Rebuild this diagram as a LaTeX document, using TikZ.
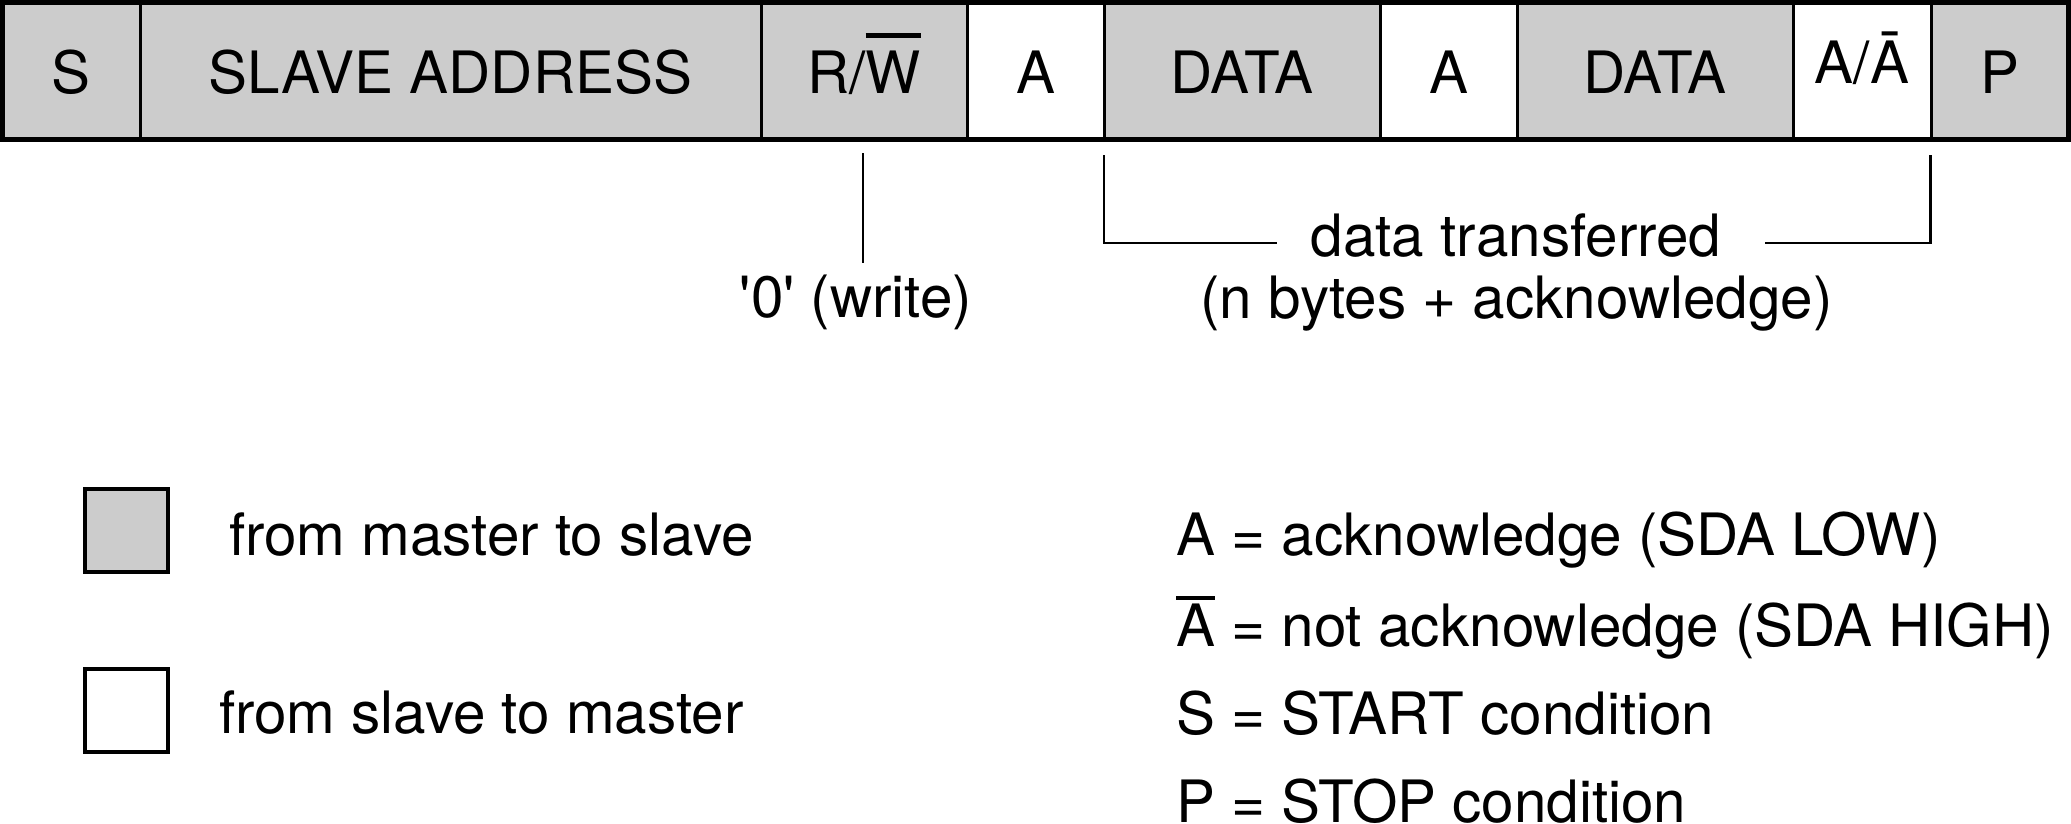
\documentclass[tikz,border=0pt]{standalone}
\usepackage{fontspec}
\setmainfont{TeX Gyre Heros}
\definecolor{cellgray}{HTML}{CCCCCC}
\newcommand\ovlA[1]{\leavevmode\setbox0\hbox{#1}\rlap{\rule[0.79em]{\wd0}{0.07em}}\box0\relax}
\newcommand\ovlW[1]{\leavevmode\setbox0\hbox{#1}\rlap{\rule[0.95em]{\wd0}{0.085em}}\box0\relax}
\begin{document}
\begin{tikzpicture}[x=1pt,y=-1pt,
  every node/.style={font=\fontsize{58.4pt}{70pt}\selectfont, inner sep=0pt, outer sep=0pt},
  cell/.style={draw, line width=3pt, rectangle, minimum height=137pt, text height=44pt, text depth=0pt},
  master/.style={cell, fill=cellgray},
  slave/.style={cell, fill=white},
  thinline/.style={line width=2.6pt},
  lbl/.style={text height=42pt, text depth=12pt},
  lgbox/.style={draw, line width=4pt, minimum width=83pt, minimum height=83pt}]
\useasboundingbox (0,0) rectangle (2071,823);
% frame cells
\node[master, minimum width=137.5pt] (s)  at (71.25,71) {S};
\node[master, minimum width=621pt]   (sa) at (450.5,71) {SLAVE ADDRESS};
\node[master, minimum width=206pt]   (rw) at (864,71)   {R/\ovlW{W}};
\node[slave,  minimum width=137pt]   (a1) at (1035.5,71) {A};
\node[master, minimum width=276pt]   (d1) at (1242,71)  {DATA};
\node[slave,  minimum width=137pt]   (a2) at (1448.5,71) {A};
\node[master, minimum width=276pt]   (d2) at (1655,71)  {DATA};
\node[slave,  minimum width=138pt, text depth=20pt] (aa) at (1862,71) {A/Ā};
\node[master, minimum width=137.5pt] (p)  at (1999.75,71) {P};
\draw[line width=4.5pt] (s.north west) rectangle (p.south east);
% R/W annotation
\node[lbl, anchor=base] (wr) at (856,317) {\textquotesingle 0\textquotesingle\ (write)};
\draw[thinline] ([xshift=-1pt,yshift=-13.5pt]rw.south) -- ([xshift=-1pt,yshift=12pt]rw.south |- wr.north);
% data transferred bracket
\node[lbl, anchor=base] (dt) at (1516,256) {data transferred};
\node[lbl, anchor=base] (nb) at (1516.5,318) {(n bytes + acknowledge)};
\draw[thinline] ([yshift=-15.5pt]d1.south west) |- ([xshift=-33.5pt,yshift=13pt]dt.base west);
\draw[thinline] ([xshift=-0.5pt,yshift=-15.5pt]aa.south east) |- ([xshift=43.5pt,yshift=13pt]dt.base east);
% legend
\node[lgbox, fill=cellgray] (k1) at (126.5,530.5) {};
\node[lgbox, fill=white]    (k2) at (126.5,710) {};
\node[anchor=base west] (t1) at (229,555) {from master to slave};
\node[anchor=base west] (t2) at (219,733) {from slave to master};
\node[anchor=base west] (l1) at (1176,555) {A = acknowledge (SDA LOW)};
\node[anchor=base west] (l2) at (1176,646) {\ovlA{A} = not acknowledge (SDA HIGH)};
\node[anchor=base west] (l3) at (1176,734) {S = START condition};
\node[anchor=base west] (l4) at (1176,822) {P = STOP condition};
\end{tikzpicture}
\end{document}
